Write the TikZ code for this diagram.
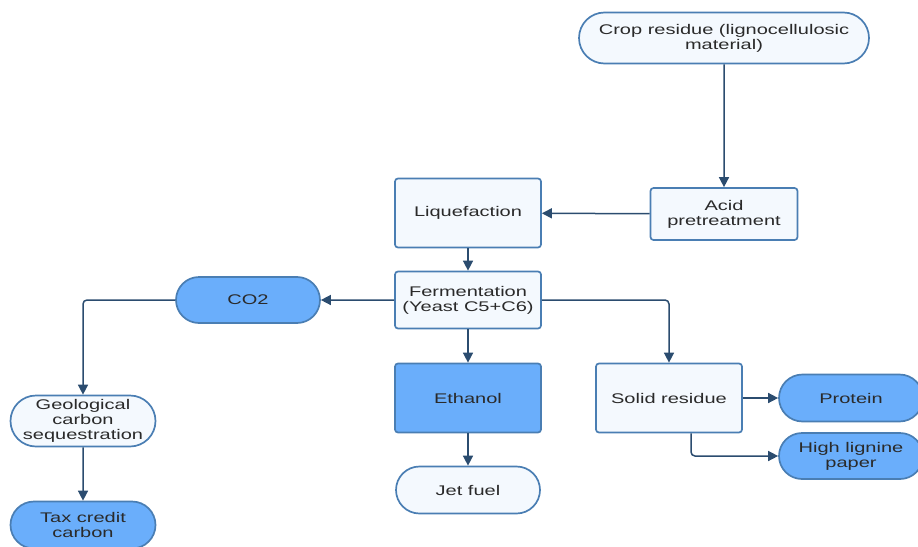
\documentclass[tikz,border=0pt]{standalone}
\usepackage{fontspec}
\setmainfont{Liberation Sans}[FakeStretch=1.43]
\usepackage{xcolor}
\usepackage{tikz}
\usetikzlibrary{arrows.meta,positioning,shapes.misc}

\definecolor{edgeblue}{HTML}{4A7EB3}
\definecolor{paleblue}{HTML}{F4F9FE}
\definecolor{fillblue}{HTML}{6AAEFB}
\definecolor{linkblue}{HTML}{2B4C6F}
\definecolor{textgray}{HTML}{2A2A2A}

\tikzset{
    box/.style={draw=edgeblue, line width=1.7pt, rounded corners=3pt, fill=paleblue,
        text=textgray, align=center, inner sep=2pt},
    pill/.style={rounded rectangle, draw=edgeblue, line width=1.7pt, fill=paleblue,
        text=textgray, align=center, inner sep=1pt},
    link/.style={draw=linkblue, line width=1.5pt, -{Triangle[length=10pt,width=10pt]}},
}

\begin{document}
\begin{tikzpicture}[x=1pt, y=-1pt, font=\fontsize{14}{15}\selectfont]
    \useasboundingbox (0,0) rectangle (918,546);

    % Feedstock and pretreatment
    \node[pill, minimum width=292pt, minimum height=51pt] (crop) at (724,38)
        {Crop residue (lignocellulosic\\material)};
    \node[box, minimum width=147pt, minimum height=52pt] (acid) at (724,214)
        {Acid\\pretreatment};

    % Main line
    \node[box, minimum width=146pt, minimum height=69pt] (liq) at (468,213) {Liquefaction};
    \node[box, minimum width=146pt, minimum height=57pt] (ferm) at (468,300)
        {Fermentation\\(Yeast C5+C6)};
    \node[box, fill=fillblue, minimum width=146pt, minimum height=69pt] (eth) at (468,398) {Ethanol};
    \node[pill, minimum width=146pt, minimum height=47pt] (jet) at (468,490) {Jet fuel};

    % CO2 branch
    \node[pill, fill=fillblue, minimum width=146pt, minimum height=46pt] (co2) at (248,300) {CO2};
    \node[pill, minimum width=147pt, minimum height=51pt] (geo) at (83,421)
        {Geological\\carbon\\sequestration};
    \node[pill, fill=fillblue, minimum width=147pt, minimum height=47pt] (tax) at (83,525)
        {Tax credit\\carbon};

    % Residue branch
    \node[box, minimum width=146pt, minimum height=69pt] (solid) at (669,398) {Solid residue};
    \node[pill, fill=fillblue, minimum width=146pt, minimum height=47pt] (prot) at (851,398) {Protein};
    \node[pill, fill=fillblue, minimum width=146pt, minimum height=46pt] (paper) at (851,456)
        {High lignine\\paper};

    % Connectors
    \draw[link] (crop) -- (acid);
    \draw[link] (acid) -- (liq);
    \draw[link] (liq) -- (ferm);
    \draw[link] (ferm) -- (eth);
    \draw[link] (eth) -- (jet);
    \draw[link] (ferm) -- (co2);
    \draw[link, rounded corners=4pt] (co2.west) -| (geo.north);
    \draw[link] (geo) -- (tax);
    \draw[link, rounded corners=4pt] (ferm.east) -| (solid.north);
    \draw[link] (solid) -- (prot);
    \draw[link, rounded corners=4pt] (solid.south -| 691,0) |- (paper.west);
\end{tikzpicture}
\end{document}
